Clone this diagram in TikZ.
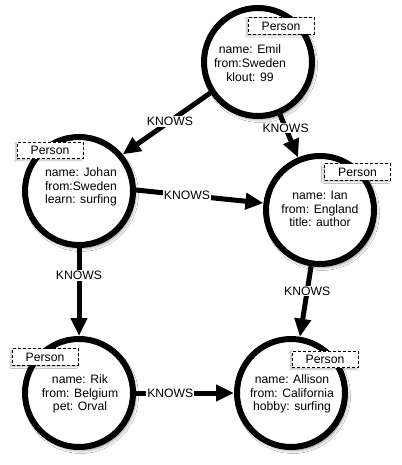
\documentclass[tikz,border=0pt]{standalone}
\usepackage{fontspec}
\setmainfont{Liberation Sans}
\usetikzlibrary{arrows.meta,shadows.blur}
\begin{document}
\begin{tikzpicture}[x=1pt,y=-1pt,
  person/.style={circle, draw=black, line width=6pt, fill=white, minimum size=108pt, inner sep=0pt,
    blur shadow={shadow xshift=2pt, shadow yshift=-3pt, shadow blur radius=3.5pt, shadow opacity=55}},
  props/.style={font=\fontsize{12.2}{13.7}\selectfont, align=center, inner sep=0pt},
  tag/.style={draw=black, line width=0.9pt, dash pattern=on 3pt off 2pt, fill=white,
    minimum width=66pt, minimum height=16.5pt, inner sep=0pt, font=\fontsize{12.2}{13.7}\selectfont,
    blur shadow={shadow xshift=-1.5pt, shadow yshift=-1.5pt, shadow blur radius=1.5pt, shadow opacity=25}},
  rel/.style={line width=5pt, -{Triangle[length=18pt,width=16pt]}},
  knows/.style={fill=white, inner sep=1pt, font=\fontsize{12.2}{13.7}\selectfont}
]
\useasboundingbox[fill=white] (0,0) rectangle (401,465);

% circles
\node[person] (emil) at (258,62) {};
\node[person] (johan) at (79,191) {};
\node[person] (ian) at (320,210) {};
\node[person] (rik) at (79,393) {};
\node[person] (allison) at (291,393) {};

% properties
\node[props] (emiltxt) at (250,63) {name: Emil\\from:Sweden\\klout: 99};
\node[props] (johantxt) at (81,187) {name: Johan\\from:Sweden\\learn: surfing};
\node[props] (iantxt) at (320,209) {name: Ian\\from: England\\title: author};
\node[props] (riktxt) at (80,394) {name: Rik\\from: Belgium\\pet: Orval};
\node[props] (allisontxt) at (292,394) {name: Allison\\from: California\\hobby: surfing};

% relationships
\draw[rel] (emil.213) -- node[knows, pos=0.46] (k1) {KNOWS} (johan.40);
\draw[rel] (emil) -- node[knows, pos=0.31] (k2) {KNOWS} (ian);
\draw[rel] (johan.1) -- node[knows, pos=0.40] (k3) {KNOWS} (ian.173);
\draw[rel] (johan) -- node[knows, pos=0.31] (k4) {KNOWS} (rik);
\draw[rel] (ian) -- node[knows, pos=0.35] (k5) {KNOWS} (allison);
\draw[rel] (rik) -- node[knows, pos=0.35] (k6) {KNOWS} (allison);

% labels
\node[tag] (emiltag) at (281,26) {Person};
\node[tag] (johantag) at (50,150.5) {Person};
\node[tag] (iantag) at (357.5,172) {Person};
\node[tag] (riktag) at (45,357) {Person};
\node[tag] (allisontag) at (325,359.5) {Person};
\end{tikzpicture}
\end{document}
